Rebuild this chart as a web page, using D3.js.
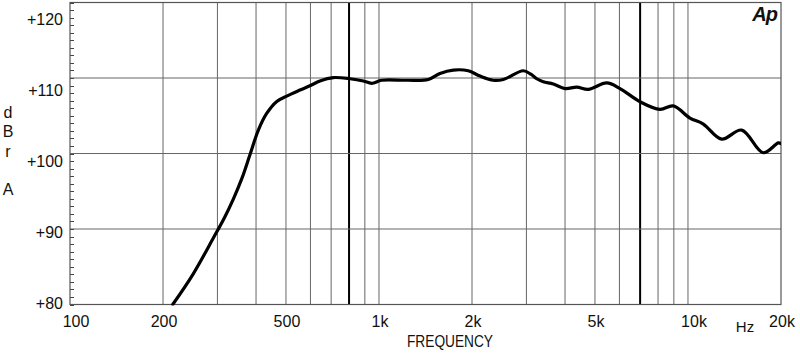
<!DOCTYPE html>
<html><head><meta charset="utf-8">
<script src="https://cdn.jsdelivr.net/npm/d3@7"></script>
<style>
html,body{margin:0;padding:0;background:#fff;}
text{font-family:"Liberation Sans",Arial,sans-serif;fill:#111;}
</style></head>
<body><svg id="c" width="800" height="356"></svg>
<script>
// Frequency response data (Hz, dBr)
const freqs = [215,250,291,317,338,360,382,407,433,467,503,555,600,644,711,806,890,947,1020,1229,1444,1575,1740,1945,2123,2344,2525,2931,3100,3240,3401,3665,4000,4365,4756,5458,6026,7000,8118,8960,10150,11210,12850,14920,17520,19600,20000];
const levels = [80.0,84.0,88.8,91.6,94.0,96.7,99.8,103.1,105.3,106.9,107.6,108.4,109.0,109.6,110.05,109.9,109.6,109.3,109.7,109.7,109.8,110.6,111.05,110.96,110.25,109.7,109.8,110.96,110.5,109.9,109.5,109.2,108.6,108.8,108.5,109.35,108.6,106.85,105.85,106.3,104.7,103.9,101.9,103.1,100.1,101.4,101.3];
const xTickValues = [100,200,500,1000,2000,5000,10000,20000];
const xTickLabels = ["100","200","500","1k","2k","5k","10k","20k"];
const xGridValues = [200,300,400,500,600,700,800,900,1000,2000,3000,4000,5000,6000,7000,8000,9000,10000];
const xBoldGrid = [800,7000];
const yTickValues = [80,90,100,110,120];
const yTickLabels = ["+80","+90","+100","+110","+120"];
const yGridValues = [90,100,110];
const yMinorValues = d3.range(80,121,1);

const svg = d3.select("#c");
const L = 70, R = 781, T = 2.5, B = 304.5;
const x = d3.scaleLog().domain([100,20000]).range([L,R]);
const y = d3.scaleLinear().domain([80,120]).range([B,T]);
const yLab = d3.scaleLinear().domain([80,120]).range([303,19.5]);

// grid
svg.append("g").selectAll("line").data(xGridValues).join("line")
  .attr("x1",d=>x(d)).attr("x2",d=>x(d)).attr("y1",T).attr("y2",B)
  .attr("stroke",d=>xBoldGrid.includes(d)?"#000":"#666")
  .attr("stroke-width",d=>xBoldGrid.includes(d)?2:1);
svg.append("g").selectAll("line").data(yGridValues).join("line")
  .attr("x1",L).attr("x2",R).attr("y1",d=>y(d)).attr("y2",d=>y(d))
  .attr("stroke","#666").attr("stroke-width",1);
// minor ticks
svg.append("g").selectAll("line").data(yMinorValues).join("line")
  .attr("x1",L).attr("x2",L+4).attr("y1",d=>Math.round(y(d))+0.5).attr("y2",d=>Math.round(y(d))+0.5)
  .attr("stroke","#444").attr("stroke-width",1);
// frame
svg.append("rect").attr("x",L).attr("y",T).attr("width",R-L).attr("height",B-T)
  .attr("fill","none").attr("stroke","#555").attr("stroke-width",1.2);

// curve
const pts = freqs.map((f,i)=>[f,levels[i]]);
svg.append("defs").append("clipPath").attr("id","clip").append("rect")
  .attr("x",L).attr("y",T).attr("width",R-L).attr("height",B-T+1);
svg.append("path").datum(pts)
  .attr("clip-path","url(#clip)")
  .attr("d",d3.line().x(d=>x(d[0])).y(d=>y(d[1])).curve(d3.curveCatmullRom.alpha(0.5)))
  .attr("fill","none").attr("stroke","#000").attr("stroke-width",3.2)
  .attr("stroke-linejoin","round").attr("stroke-linecap","round");

// y labels
svg.append("g").selectAll("text").data(yTickValues).join("text")
  .attr("x",63).attr("y",d=>yLab(d)).attr("dy","0.36em")
  .attr("text-anchor","end").attr("font-size",16)
  .text((d,i)=>yTickLabels[i]);
// x labels
svg.append("g").selectAll("text").data(xTickValues).join("text")
  .attr("x",(d,i)=>x(d)+(i===0?6:(d===10000?6:1))).attr("y",327)
  .attr("text-anchor","middle").attr("font-size",16)
  .text((d,i)=>xTickLabels[i]);
svg.append("text").attr("x",745).attr("y",332).attr("text-anchor","middle")
  .attr("font-size",15).text("Hz");
svg.append("text").attr("x",450).attr("y",347).attr("text-anchor","middle")
  .attr("font-size",16).attr("textLength",86).attr("lengthAdjust","spacingAndGlyphs")
  .text("FREQUENCY");
// dBr A
const yLetters = ["d","B","r","A"];
const yLetterPos = [112,131,151,189];
svg.append("g").selectAll("text").data(yLetters).join("text")
  .attr("x",8).attr("y",(d,i)=>yLetterPos[i]).attr("dy","0.36em")
  .attr("text-anchor","middle").attr("font-size",16).text(d=>d);
// logo
svg.append("text").attr("x",777).attr("y",21).attr("text-anchor","end")
  .attr("font-size",20).attr("font-weight","bold").attr("font-style","italic")
  .attr("letter-spacing","-1").text("Ap");
</script></body></html>
